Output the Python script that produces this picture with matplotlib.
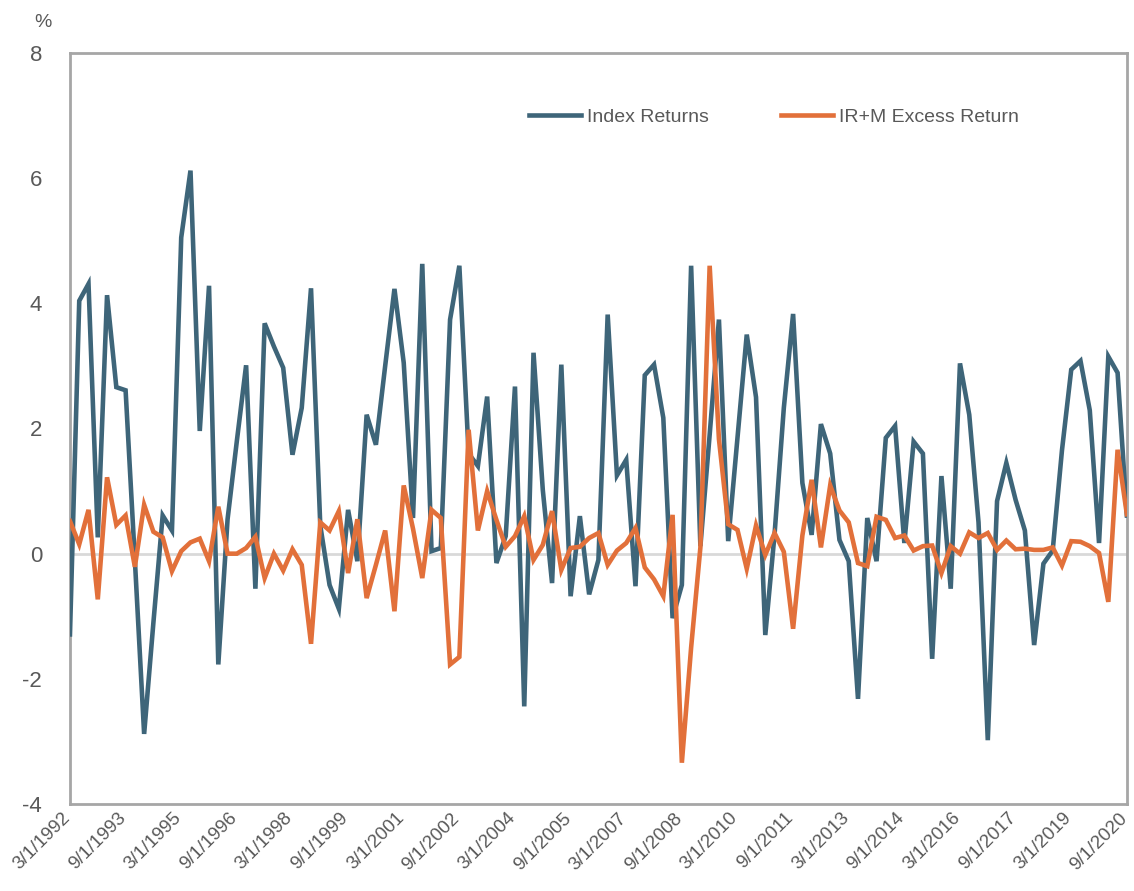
import matplotlib.pyplot as plt
import matplotlib.transforms as mtransforms
import numpy as np
import pandas as pd

# Quartalsdaten 3/1/1992 bis 9/1/2020
dates = pd.date_range('1992-03-01', '2020-09-01', freq='3MS')

index_returns = [
    -1.29, 4.04, 4.31, 0.26, 4.13, 2.66, 2.61, -0.10, -2.88, -1.10,
    0.61, 0.37, 5.05, 6.12, 1.96, 4.28, -1.77, 0.55, 1.80, 3.01,
    -0.56, 3.68, 3.31, 2.97, 1.58, 2.33, 4.24, 0.45, -0.50, -0.88,
    0.70, -0.12, 2.22, 1.74, 3.00, 4.23, 3.05, 0.57, 4.63, 0.04,
    0.09, 3.74, 4.60, 1.60, 1.40, 2.51, -0.15, 0.28, 2.67, -2.44,
    3.21, 1.02, -0.47, 3.02, -0.68, 0.60, -0.65, -0.10, 3.82, 1.25,
    1.50, -0.52, 2.85, 3.02, 2.17, -1.03, -0.50, 4.60, 0.12, 1.90,
    3.74, 0.20, 1.85, 3.50, 2.50, -1.30, 0.31, 2.33, 3.83, 1.13,
    0.30, 2.07, 1.60, 0.22, -0.12, -2.32, 0.57, -0.12, 1.85, 2.04,
    0.17, 1.79, 1.60, -1.68, 1.24, -0.56, 3.04, 2.22, 0.50, -2.98,
    0.84, 1.45, 0.86, 0.37, -1.46, -0.16, 0.05, 1.65, 2.94, 3.08,
    2.29, 0.17, 3.15, 2.89, 0.61,
]

excess_returns = [
    0.52, 0.15, 0.70, -0.73, 1.22, 0.46, 0.61, -0.21, 0.78, 0.35,
    0.26, -0.28, 0.04, 0.18, 0.24, -0.12, 0.75, 0.00, 0.00, 0.09,
    0.27, -0.39, 0.00, -0.27, 0.07, -0.18, -1.44, 0.50, 0.37, 0.68,
    -0.31, 0.55, -0.71, -0.18, 0.37, -0.92, 1.09, 0.40, -0.39, 0.70,
    0.57, -1.77, -1.65, 1.98, 0.37, 1.00, 0.54, 0.11, 0.28, 0.60,
    -0.10, 0.14, 0.68, -0.26, 0.09, 0.11, 0.25, 0.33, -0.18, 0.05,
    0.17, 0.41, -0.22, -0.41, -0.68, 0.62, -3.34, -1.50, 0.10, 4.60,
    1.83, 0.47, 0.38, -0.24, 0.45, -0.02, 0.33, 0.03, -1.20, 0.29,
    1.18, 0.10, 1.09, 0.69, 0.50, -0.15, -0.20, 0.59, 0.54, 0.25,
    0.29, 0.05, 0.12, 0.13, -0.31, 0.12, 0.00, 0.34, 0.25, 0.33,
    0.06, 0.21, 0.07, 0.08, 0.06, 0.06, 0.10, -0.19, 0.20, 0.19,
    0.12, 0.01, -0.77, 1.66, 0.63,
]

labels = [f"{d.month}/{d.day}/{d.year}" for d in dates]
y_ticks = [-4, -2, 0, 2, 4, 6, 8]

blue = '#3e6579'
orange = '#e2703a'
grey_text = '#595959'

plt.rcParams['font.family'] = ['Liberation Sans', 'DejaVu Sans']

fig = plt.figure(figsize=(11.34, 8.91), dpi=100)
ax = fig.add_axes([0.0617, 0.0976, 0.932, 0.843])

x = np.arange(len(dates))

# Nulllinie
ax.axhline(0, color='#d9d9d9', linewidth=2, zorder=1)

ax.plot(x, index_returns, color=blue, linewidth=3.3, label='Index Returns',
        solid_joinstyle='miter', zorder=3)
ax.plot(x, excess_returns, color=orange, linewidth=3.3, label='IR+M Excess Return',
        solid_joinstyle='miter', zorder=4)

ax.set_xlim(0, len(dates) - 1)
ax.set_ylim(-4, 8)

ax.set_yticks(y_ticks)
ax.set_yticklabels([str(t) for t in y_ticks], fontsize=16, color=grey_text)

ax.set_xticks(x[::6])
ax.set_xticklabels(labels[::6], rotation=45, ha='right', rotation_mode='anchor',
                   fontsize=13.5, color=grey_text)
ax.tick_params(axis='y', length=0, pad=20)
ax.tick_params(axis='x', length=0, pad=4)

# x-Beschriftungen etwas nach links schieben, damit 9/1/2020 nicht abgeschnitten wird
shift = mtransforms.ScaledTranslation(-6 / 72, 0, fig.dpi_scale_trans)
for lbl in ax.get_xticklabels():
    lbl.set_transform(lbl.get_transform() + shift)

for spine in ax.spines.values():
    spine.set_color('#a6a6a6')
    spine.set_linewidth(2)

fig.text(0.038, 0.975, '%', fontsize=14, color=grey_text, ha='center', va='center')

# Legende oben rechts ohne Rahmen
ax.legend(loc='center right', bbox_to_anchor=(0.898, 0.915), ncol=2, frameon=False,
          fontsize=14, handlelength=2.7, handletextpad=0.3, columnspacing=3.7,
          borderpad=0, borderaxespad=0, labelcolor=grey_text)

fig.savefig('out.png', dpi=100)
